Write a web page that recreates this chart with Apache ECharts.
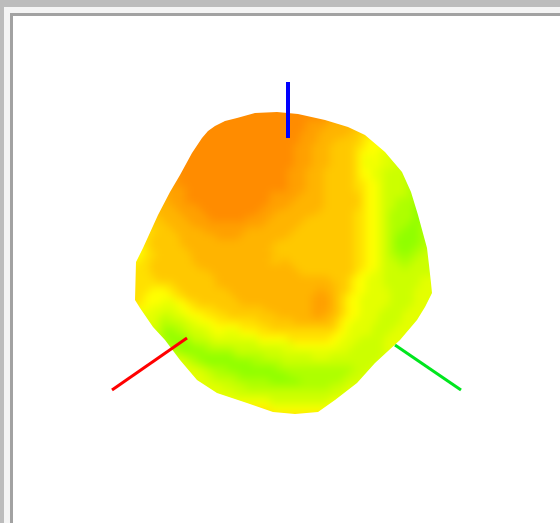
<!DOCTYPE html>
<html><head><meta charset="utf-8">
<style>
html,body{margin:0;padding:0;background:#fff;overflow:hidden}
.f{position:absolute;right:0;bottom:0}
#f0{left:0;top:0;background:#bcbcbc}#f1{left:4px;top:7px;background:#f4f4f4}
#f2{left:10px;top:13px;background:#a2a2a2}#f3{left:13px;top:16px;background:#fff}
.c{position:absolute;left:0;top:0;width:560px;height:523px}
#surface{filter:blur(4px)}
</style>
<script src="https://cdn.jsdelivr.net/npm/echarts@6/dist/echarts.min.js"></script>
</head><body>
<div class="f" id="f0"></div><div class="f" id="f1"></div><div class="f" id="f2"></div><div class="f" id="f3"></div>
<div class="c" id="surface"></div><div class="c" id="top"></div>
<script>
// colour level of the surface, one string per image row (6 px steps), '.' = empty
const surfaceRows = [
"..... ..... ..... ...00 00000 00000 0.... ..... ..... ..... .",
"..... ..... ..... 00000 00000 00000 00111 ..... ..... ..... .",
"..... ..... ...00 00000 00000 00001 11122 222.. ..... ..... .",
"..... ..... .0000 00000 00000 00001 11222 22333 ..... ..... .",
"..... ..... 00000 00000 00000 00011 12222 23344 4.... ..... .",
"..... ....0 00000 00000 00000 00011 12223 33345 5.... ..... .",
"..... ....0 00000 00000 00000 00111 22233 33445 55... ..... .",
"..... ...00 00000 00000 00000 00111 22233 33455 566.. ..... .",
"..... ...00 00000 00000 00000 00111 22233 33456 5667. ..... .",
"..... ..000 00000 00000 00000 00111 22233 33456 56667 ..... .",
"..... .0000 00000 00000 00000 01112 22333 33455 66777 7.... .",
"..... .1100 00000 00000 00000 01112 22333 33455 66777 78... .",
"..... 11000 00000 00000 00000 01112 22333 33445 56777 78... .",
"..... .1110 00000 00000 00000 01112 22333 33445 56777 78... .",
"..... 21110 00000 00000 00011 11122 22333 33345 56777 788.. .",
"....2 21110 00000 00000 00011 11222 22333 33345 56778 888.. .",
"....2 22111 10000 00000 00111 12222 22333 33345 56778 889.. .",
"...32 22211 11000 00000 01112 22222 23333 33445 56788 8899. .",
"...33 22221 11100 00001 11122 22223 33333 33445 56788 8899. .",
"..333 32222 11111 11111 11222 22233 33333 33445 56788 8998. .",
".3443 33222 22111 11112 22222 22333 33333 33445 56788 9998. .",
".4433 33322 22221 11122 22222 23333 33333 33445 56789 9998. .",
"44433 33322 22222 22222 22223 33333 33333 33445 56789 9998. .",
"55433 33332 22222 22222 22233 33333 33333 33445 56789 99887 .",
"55443 33333 22222 22222 22223 33333 33333 33445 56788 98877 .",
"54433 33333 22222 22222 22233 23333 33333 33445 56778 88777 .",
"44433 33333 32222 22222 22222 22333 33333 33445 56777 87777 .",
"44433 33333 33322 22222 22222 22233 33333 33455 66777 77777 .",
"44443 33333 33332 22222 22222 22222 22233 34556 66777 77766 .",
"44444 44333 33332 22222 22222 22222 22223 34556 66777 77766 6",
"44455 54433 33333 32222 22222 22222 21223 34556 66677 77666 6",
"44555 55443 33333 33222 22222 22222 11123 45566 66677 77666 6",
"44555 66554 43333 33322 22222 22222 11123 45566 66677 77666 .",
".5566 66655 44443 33333 33222 22222 11123 45566 66777 7666. .",
"..666 77665 55444 43333 33332 22222 11223 45566 67777 666.. .",
"..667 87776 65554 44444 43333 33222 22234 55666 67777 66... .",
"...67 88877 66655 55544 44433 33333 33334 56666 77776 6.... .",
"...77 99887 77665 66655 54444 44444 44445 56666 77766 ..... .",
"....7 89998 77766 66666 65555 54444 44455 66677 77666 ..... .",
"..... .8999 88877 77777 76666 66555 55556 66777 77666 ..... .",
"..... ..899 99888 88777 77777 66666 66666 67777 7766. ..... .",
"..... ...78 89999 99888 88777 77777 66677 77777 776.. ..... .",
"..... ...67 88999 99999 88888 77777 77777 77777 76... ..... .",
"..... ....6 67788 89999 99998 88888 88888 88777 6.... ..... .",
"..... ..... 66778 88899 99999 98888 88888 87776 ..... ..... .",
"..... ..... .6677 77888 88899 99988 88888 77766 ..... ..... .",
"..... ..... ...66 77778 88888 88888 88877 7666. ..... ..... .",
"..... ..... ....6 66777 77777 77777 77777 666.. ..... ..... .",
"..... ..... ..... .6666 66677 77777 77766 66... ..... ..... .",
"..... ..... ..... ....5 55566 66666 66655 5.... ..... ..... .",
"..... ..... ..... ..... ..455 55555 55... ..... ..... ..... .",
"..... ..... ..... ..... ....4 44444 4.... ..... ..... ..... ."
];
const levelColors = ['#ff8c00','#ffa000','#ffb400','#ffc800','#ffe000','#ffff00','#e4ff00','#ccff00','#aeff00','#90ff00'];

// silhouette of the body, in image units
const leftEdge  = [[277,112],[255,113],[237,118],[225,121],[215,126],[208,131],[202,138],[192,153],[180,175],[170,192],[158,215],[143,248],[136,262],[135,300],[140,308],[153,327],[165,340],[180,360],[197,380],[217,393],[247,403],[273,412],[295,414]];
const rightEdge = [[277,112],[298,114],[325,120],[348,127],[365,135],[385,152],[402,172],[411,192],[418,215],[427,248],[429,265],[431,283],[432,293],[425,307],[417,320],[400,340],[375,363],[357,383],[335,400],[318,412],[295,414]];
const sideA = [[277,50],[80,50],[80,480],[295,480]];
const sideB = [[277,50],[495,50],[495,480],[295,480]];

const redAxis   = [[112,390],[187,338]];
const greenAxis = [[395,345],[461,390]];
const blueAxis  = [[288,82],[288,138]];

// rows as level arrays; the empty cells take the nearest level of their row,
// only so the soft edge stays under the white silhouette mask
const pad = 4, cell = 6;
let grid = surfaceRows.map(r=>r.replace(/ /g,'').split(''));
grid = grid.map(r=>{
  const known = r.map((c,i)=>c==='.'?-1:i).filter(i=>i>=0);
  const out = r.map((c,i)=>{ if(c!=='.')return +c; let b=known[0]; known.forEach(k=>{if(Math.abs(k-i)<Math.abs(b-i))b=k;}); return +r[b]; });
  const a=Array(pad).fill(out[0]), z=Array(pad).fill(out[out.length-1]);
  return a.concat(out,z);
});
grid = Array(pad).fill(grid[0]).concat(grid,Array(pad).fill(grid[grid.length-1]));
const nRows = grid.length, nCols = grid[0].length;
const colLabels = grid[0].map((_,i)=>String(i));
const rowLabels = grid.map((_,j)=>String(j));
const cells = [];
grid.forEach((r,j)=>r.forEach((v,i)=>cells.push([i,j,v])));

const surface = echarts.init(document.getElementById('surface'));
surface.setOption({
  animation:false,
  grid:{left:132-pad*cell,top:108-pad*cell,width:nCols*cell,height:nRows*cell},
  xAxis:{type:'category',data:colLabels,show:false},
  yAxis:{type:'category',data:rowLabels,inverse:true,show:false},
  visualMap:{show:false,min:0,max:9,dimension:2,inRange:{color:levelColors}},
  series:[{type:'heatmap',data:cells,progressive:0,emphasis:{disabled:true}}]
});

const maskPts = [sideA.concat(leftEdge.slice().reverse()), sideB.concat(rightEdge.slice().reverse())];
const top_ = echarts.init(document.getElementById('top'));
top_.setOption({
  animation:false,
  grid:{left:0,top:0,width:560,height:523},
  xAxis:{type:'value',min:0,max:560,show:false},
  yAxis:{type:'value',min:0,max:523,inverse:true,show:false},
  series:[
    {type:'custom',z:2,silent:true,clip:false,data:[[0,0],[1,1]],encode:{x:0,y:1},
     renderItem:(params,api)=>({type:'polygon',
       shape:{points:maskPts[params.dataIndex].map(p=>api.coord(p))},style:{fill:'#fff'}})},
    {type:'line',z:3,data:redAxis,symbol:'none',silent:true,lineStyle:{color:'#ff0000',width:3}},
    {type:'line',z:3,data:greenAxis,symbol:'none',silent:true,lineStyle:{color:'#00e61e',width:3}},
    {type:'line',z:3,data:blueAxis,symbol:'none',silent:true,lineStyle:{color:'#0000ff',width:4}}
  ]
});
</script></body></html>
